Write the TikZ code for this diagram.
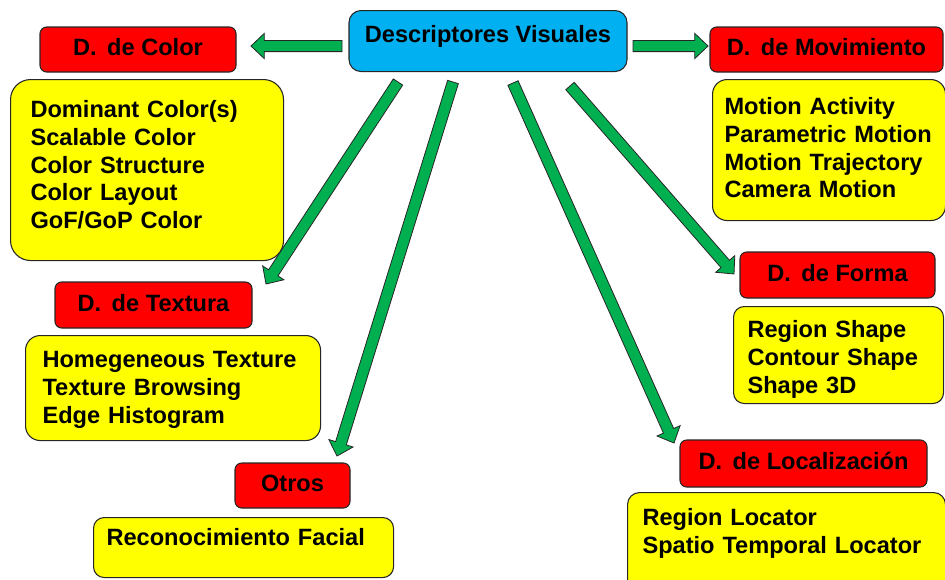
\documentclass[tikz,border=0pt]{standalone}
\usepackage{fontspec}
\setmainfont{Liberation Sans}
\usetikzlibrary{calc}
\definecolor{celeste}{HTML}{00B0F0}
\definecolor{rojo}{HTML}{FF0000}
\definecolor{amarillo}{HTML}{FFFF00}
\definecolor{verde}{HTML}{00B050}
\definecolor{borde}{HTML}{262626}

% block arrow from #1 (tail) to #2 (tip), #3 = head base
\newcommand{\flecha}[3]{%
  \coordinate (#3) at ($(#2)!10pt!(#1)$);
  \draw[flecha] ($(#1)!4.2pt!90:(#2)$) -- ($(#3)!4.2pt!-90:(#1)$) -- ($(#3)!9.5pt!-90:(#1)$) -- (#2)
    -- ($(#3)!9.5pt!90:(#1)$) -- ($(#3)!4.2pt!90:(#1)$) -- ($(#1)!4.2pt!-90:(#2)$) -- cycle;}

\begin{document}
\begin{tikzpicture}[x=0.75pt, y=-0.75pt,
    every node/.style={font=\bfseries\fontsize{17.7pt}{20.8pt}\selectfont, inner sep=0pt},
    titulo/.style={draw=borde, line width=0.8pt, fill=rojo, rounded corners=5pt, text height=11pt, text depth=2pt},
    lista/.style={draw=borde, line width=0.8pt, fill=amarillo, anchor=north west, align=left, inner ysep=0pt},
    flecha/.style={draw=borde, line width=0.6pt, fill=verde}]
  \useasboundingbox (0,0) rectangle (945,579);

  \node[draw=borde, line width=0.8pt, fill=celeste, rounded corners=9pt, anchor=north,
    minimum width=208.5pt, text height=24pt, text depth=21.75pt] (desc) at (488,10) {Descriptores Visuales};

  % titulos
  \node[titulo, minimum width=147pt, minimum height=33.75pt] (color) at (138,49.5) {D.\, de Color};
  \node[titulo, minimum width=174.75pt, minimum height=33.75pt] (mov) at (826.5,49.5) {D.\, de Movimiento};
  \node[titulo, minimum width=147.75pt, minimum height=34.5pt] (textura) at (153.5,305) {D.\, de Textura};
  \node[titulo, minimum width=146.25pt, minimum height=34.5pt] (forma) at (837.5,275) {D.\, de Forma};
  \node[titulo, minimum width=185.25pt, minimum height=35.25pt] (loc) at (803.5,463.5) {D.\, de Localización};
  \node[titulo, minimum width=86.25pt, minimum height=33.75pt] (otros) at (292.5,485.5) {Otros};

  % listas
  \node[lista, rounded corners=15pt, inner xsep=15pt, text width=174.75pt, text height=28.5pt, text depth=107.25pt]
    (lcolor) at (10,79) {Dominant Color(s)\\Scalable Color\\Color Structure\\Color Layout\\GoF/GoP Color};
  \node[lista, rounded corners=11pt, inner xsep=9pt, text width=156.75pt, text height=26.25pt, text depth=79.5pt]
    (lmov) at (712,79) {Motion Activity\\Parametric Motion\\Motion Trajectory\\Camera Motion};
  \node[lista, rounded corners=11pt, inner xsep=12.75pt, text width=195.75pt, text height=24pt, text depth=54.75pt]
    (ltextura) at (25,335) {Homegeneous Texture\\Texture Browsing\\Edge Histogram};
  \node[lista, rounded corners=8pt, inner xsep=10.5pt, text width=136.5pt, text height=23.25pt, text depth=49.5pt]
    (lforma) at (733,306) {Region Shape\\Contour Shape\\Shape 3D};
  \node[lista, rounded corners=9pt, inner xsep=11.25pt, text width=216pt, text height=24.75pt, text depth=67.5pt]
    (lloc) at (627,492) {Region Locator\\Spatio Temporal Locator};
  \node[lista, rounded corners=8pt, inner xsep=9.75pt, text width=205.5pt, text height=21pt, text depth=24pt]
    (lotros) at (93,517) {Reconocimiento Facial};

  % flechas
  \coordinate (a0) at (342,46);  \coordinate (a1) at (251,46);
  \coordinate (b0) at (633,46);  \coordinate (b1) at (708,46);
  \coordinate (c0) at (398,82);  \coordinate (c1) at (266,284);
  \coordinate (d0) at (453,82);  \coordinate (d1) at (337,456);
  \coordinate (e0) at (513,83);  \coordinate (e1) at (674,443);
  \coordinate (f0) at (570,86);  \coordinate (f1) at (734,274);
  \foreach \p in {a,b,c,d,e,f}
    \flecha{\p0}{\p1}{\p h};
\end{tikzpicture}
\end{document}
